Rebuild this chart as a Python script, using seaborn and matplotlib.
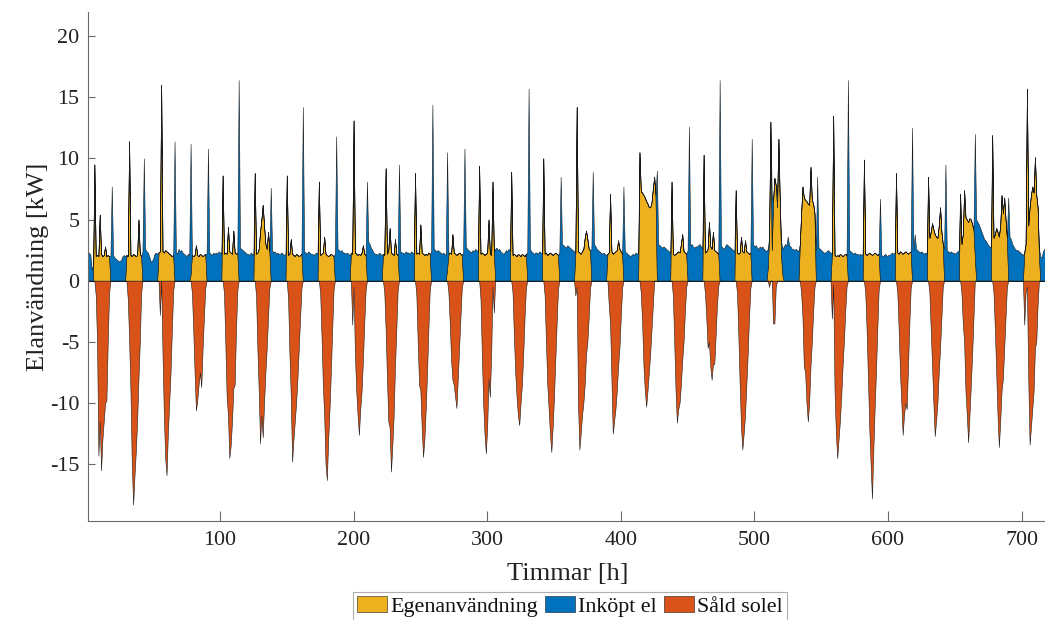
import numpy as np
import pandas as pd
import matplotlib
matplotlib.use("Agg")
import matplotlib.pyplot as plt
import seaborn as sns

# ---------------- data (hourly, 30 days x 24 h) ----------------
# total electricity use per hour [kW]
load_kw = [
    [2.2, 2.3, 2.1, 0.9, 1.3, 9.5, 2.0, 2.1, 2.0, 5.4, 2.2, 2.0, 2.1, 2.8, 2.0, 2.1, 2.0, 2.0, 7.7, 2.1, 1.9, 1.8, 1.7, 1.6],
    [1.6, 1.7, 2.0, 2.1, 2.0, 2.1, 2.0, 11.4, 2.1, 2.0, 2.2, 2.1, 2.0, 2.1, 5.0, 2.2, 2.0, 2.4, 10.0, 2.6, 2.4, 2.3, 2.0, 1.6],
    [1.6, 1.8, 2.2, 2.3, 2.2, 2.3, 2.4, 16.0, 2.4, 2.3, 2.5, 2.4, 2.3, 2.2, 2.1, 2.0, 2.1, 11.4, 2.4, 2.2, 2.6, 2.4, 2.5, 2.3],
    [2.2, 2.1, 2.0, 2.2, 2.1, 11.2, 2.1, 2.0, 2.1, 2.9, 2.1, 2.0, 2.2, 2.1, 2.0, 2.1, 2.2, 2.2, 10.8, 2.3, 2.2, 2.1, 2.3, 2.2],
    [2.3, 2.2, 2.4, 2.3, 2.2, 8.6, 2.2, 2.3, 2.2, 4.4, 2.4, 2.3, 2.2, 4.1, 2.3, 2.2, 2.3, 16.4, 2.7, 2.6, 2.5, 2.4, 2.3, 2.2],
    [2.2, 2.1, 2.3, 2.2, 2.1, 8.8, 2.2, 2.3, 2.6, 4.0, 5.0, 6.2, 4.5, 3.0, 2.6, 4.0, 2.4, 7.6, 2.5, 2.3, 2.4, 2.2, 2.3, 2.2],
    [2.2, 2.3, 2.2, 2.1, 2.2, 8.6, 2.1, 2.2, 3.4, 2.2, 2.1, 2.0, 2.2, 2.1, 2.0, 2.1, 2.2, 14.2, 2.4, 2.3, 2.2, 2.4, 2.3, 2.2],
    [2.2, 2.1, 2.2, 2.3, 2.2, 8.1, 2.1, 2.2, 2.3, 3.6, 2.2, 2.1, 2.0, 2.1, 2.2, 2.1, 2.0, 2.2, 11.8, 2.6, 2.5, 2.4, 2.5, 2.3],
    [2.3, 2.2, 2.3, 2.2, 2.1, 2.3, 2.2, 13.1, 2.3, 2.2, 2.1, 2.2, 2.1, 2.3, 2.9, 2.2, 2.1, 8.1, 3.2, 3.0, 2.7, 2.5, 2.3, 2.2],
    [2.2, 2.1, 2.3, 2.2, 2.1, 2.2, 2.1, 9.2, 2.2, 2.5, 4.3, 2.3, 2.2, 2.1, 3.4, 2.2, 2.1, 9.5, 2.4, 2.3, 2.3, 2.2, 2.4, 2.3],
    [2.3, 2.2, 2.4, 2.3, 2.2, 8.8, 2.2, 2.3, 2.2, 4.6, 2.3, 2.2, 2.1, 2.2, 2.1, 2.3, 2.2, 2.3, 14.4, 2.6, 2.5, 2.4, 2.5, 2.4],
    [2.3, 2.2, 2.3, 2.2, 2.1, 10.5, 2.2, 2.3, 2.2, 3.8, 2.3, 2.2, 2.1, 2.2, 2.3, 2.2, 2.1, 2.3, 10.8, 2.8, 2.6, 2.5, 2.4, 2.3],
    [2.5, 2.4, 2.6, 2.5, 2.4, 9.4, 2.2, 2.3, 2.2, 2.1, 2.2, 2.3, 5.0, 2.2, 2.1, 8.1, 2.4, 2.6, 2.7, 2.5, 2.6, 2.4, 2.3, 2.2],
    [2.3, 2.5, 2.4, 2.6, 2.4, 8.9, 2.1, 2.2, 2.1, 2.0, 2.2, 2.1, 2.0, 2.2, 2.1, 2.0, 2.2, 2.3, 15.7, 2.6, 2.4, 2.3, 2.2, 2.3],
    [2.3, 2.2, 2.4, 2.3, 2.2, 10.0, 2.2, 2.3, 2.1, 2.2, 2.3, 2.2, 2.1, 2.2, 2.3, 2.2, 2.1, 2.3, 8.5, 3.0, 2.9, 2.8, 2.7, 2.9],
    [2.8, 2.7, 2.6, 2.5, 2.4, 2.3, 14.2, 2.4, 2.3, 2.2, 2.4, 2.6, 3.5, 4.1, 3.4, 2.6, 2.5, 2.6, 8.9, 3.0, 2.8, 2.6, 2.5, 2.4],
    [2.3, 2.2, 2.3, 2.2, 2.1, 2.2, 2.3, 7.1, 2.4, 2.2, 2.3, 2.4, 2.5, 3.3, 2.6, 2.4, 2.2, 7.7, 2.4, 2.3, 2.2, 2.1, 2.0, 2.1],
    [2.2, 2.1, 2.3, 2.2, 2.3, 10.5, 7.3, 7.2, 7.0, 6.8, 6.5, 6.3, 6.0, 6.0, 6.4, 7.5, 8.5, 7.0, 9.0, 3.0, 2.9, 2.8, 2.7, 2.8],
    [2.7, 2.6, 2.5, 2.4, 2.3, 8.1, 2.2, 2.1, 2.2, 2.3, 2.4, 2.3, 3.0, 3.8, 2.4, 2.3, 2.2, 2.5, 12.6, 2.9, 3.0, 2.8, 2.7, 2.8],
    [2.8, 2.9, 3.0, 2.8, 2.6, 10.3, 2.3, 2.4, 2.6, 4.8, 2.8, 2.6, 4.0, 2.5, 2.4, 2.3, 2.2, 16.4, 2.9, 2.7, 2.6, 2.8, 3.0, 2.9],
    [2.8, 2.7, 2.6, 2.5, 2.4, 7.4, 2.3, 2.2, 2.3, 3.6, 2.4, 2.3, 3.3, 2.4, 2.3, 2.2, 2.3, 11.6, 3.0, 2.8, 2.9, 2.7, 2.6, 2.8],
    [2.7, 2.8, 2.6, 2.5, 2.4, 2.6, 3.5, 13.0, 7.0, 6.5, 8.4, 7.8, 7.0, 11.6, 6.5, 3.2, 2.6, 2.8, 3.0, 2.9, 3.6, 2.9, 2.8, 2.6],
    [2.6, 2.5, 2.6, 2.5, 2.4, 3.0, 5.5, 7.7, 6.8, 6.6, 6.5, 6.3, 6.2, 9.3, 6.6, 6.3, 5.5, 2.5, 8.5, 2.7, 2.6, 2.5, 2.4, 2.3],
    [2.3, 2.4, 2.5, 2.4, 2.3, 2.2, 13.5, 2.1, 2.0, 2.1, 2.0, 2.2, 2.1, 2.0, 2.1, 2.2, 2.1, 16.4, 2.5, 2.4, 2.3, 2.2, 2.3, 2.2],
    [2.2, 2.1, 2.2, 2.1, 2.2, 9.9, 2.2, 2.1, 2.2, 2.3, 2.2, 2.1, 2.2, 2.3, 2.2, 2.1, 2.2, 6.7, 2.1, 2.0, 2.1, 2.2, 2.0, 2.1],
    [2.1, 2.2, 2.3, 2.2, 2.3, 8.8, 2.3, 2.2, 2.4, 2.3, 2.2, 2.3, 2.4, 2.3, 2.2, 2.3, 2.4, 12.5, 2.5, 3.8, 2.6, 2.5, 2.4, 2.3],
    [2.4, 2.3, 2.2, 2.3, 2.2, 8.5, 3.5, 4.0, 4.7, 4.2, 3.8, 3.6, 3.5, 4.5, 6.0, 4.0, 3.0, 2.6, 9.5, 2.5, 2.4, 2.3, 2.4, 2.3],
    [2.3, 2.2, 2.3, 2.4, 2.5, 7.1, 3.0, 3.8, 7.4, 5.2, 5.0, 4.8, 5.1, 5.0, 4.6, 4.2, 12.0, 5.0, 4.8, 4.6, 4.3, 4.0, 3.7, 3.4],
    [3.3, 3.1, 2.9, 2.8, 2.7, 11.9, 3.5, 3.8, 4.3, 4.0, 3.6, 4.5, 7.0, 5.5, 6.8, 5.0, 3.5, 6.8, 3.6, 3.4, 3.0, 2.8, 2.6, 2.5],
    [2.5, 2.4, 2.3, 2.2, 2.1, 2.3, 3.0, 15.7, 4.5, 6.0, 7.0, 7.7, 7.2, 10.1, 7.0, 6.0, 2.6, 2.0, 1.9, 2.4, 2.6, 2.8, 2.7, 2.6],
]

# solar production per hour [kW]
pv_kw = [
    [0, 0, 0, 0, 0, 9.5, 3.2, 7.1, 16.3, 16.9, 17.7, 15.0, 13.6, 12.8, 11.8, 7.1, 3.0, 0, 0, 0, 0, 0, 0, 0],
    [0, 0, 0, 0, 0, 2.1, 3.5, 16.2, 11.1, 17.0, 20.5, 18.1, 16.0, 13.6, 13.0, 7.2, 3.0, 0, 0, 0, 0, 0, 0, 0],
    [0, 0, 0, 0, 0, 2.3, 5.2, 16.0, 8.4, 13.3, 17.0, 18.3, 14.8, 12.2, 9.6, 6.0, 2.9, 0, 0, 0, 0, 0, 0, 0],
    [0, 0, 0, 0, 0, 0.5, 3.1, 6.0, 9.6, 13.5, 11.9, 10.5, 9.7, 10.8, 7.5, 5.1, 2.8, 0, 0, 0, 0, 0, 0, 0],
    [0, 0, 0, 0, 0, 8.6, 3.2, 7.3, 11.7, 15.4, 16.9, 15.8, 13.7, 12.9, 10.8, 6.2, 3.1, 0, 0, 0, 0, 0, 0, 0],
    [0, 0, 0, 0, 0, 8.8, 3.4, 7.8, 11.6, 17.3, 16.0, 19.0, 14.5, 10.5, 8.1, 7.0, 3.0, 0, 0, 0, 0, 0, 0, 0],
    [0, 0, 0, 0, 0, 8.6, 3.6, 8.2, 12.9, 17.0, 15.1, 13.5, 12.2, 10.1, 7.5, 5.1, 2.8, 0, 0, 0, 0, 0, 0, 0],
    [0, 0, 0, 0, 0, 8.1, 3.1, 6.7, 10.8, 14.6, 17.2, 18.4, 15.0, 12.6, 9.7, 6.1, 2.8, 0, 0, 0, 0, 0, 0, 0],
    [0, 0, 0, 0, 0, 2.3, 5.8, 13.6, 8.3, 11.2, 13.1, 14.8, 12.6, 11.3, 9.4, 5.7, 2.9, 0, 0, 0, 0, 0, 0, 0],
    [0, 0, 0, 0, 0, 2.2, 3.1, 13.2, 10.2, 14.0, 16.3, 17.9, 15.7, 13.1, 10.4, 6.2, 2.9, 0, 0, 0, 0, 0, 0, 0],
    [0, 0, 0, 0, 0, 8.8, 3.4, 7.3, 10.7, 13.6, 14.3, 16.6, 15.1, 12.7, 9.6, 6.3, 3.0, 0, 0, 0, 0, 0, 0, 0],
    [0, 0, 0, 0, 0, 1.0, 3.2, 5.8, 8.7, 11.9, 10.8, 11.7, 12.5, 10.2, 7.8, 5.2, 2.7, 0, 0, 0, 0, 0, 0, 0],
    [0, 0, 0, 0, 0, 9.4, 3.7, 8.3, 12.2, 14.6, 16.3, 14.3, 13.0, 11.7, 8.1, 8.6, 5.0, 0, 0, 0, 0, 0, 0, 0],
    [0, 0, 0, 0, 0, 8.9, 3.1, 6.7, 9.6, 11.5, 13.2, 13.9, 12.0, 10.7, 8.1, 5.0, 2.8, 0, 0, 0, 0, 0, 0, 0],
    [0, 0, 0, 0, 0, 10.0, 3.4, 7.3, 10.6, 12.7, 14.8, 16.2, 14.1, 11.7, 8.8, 5.7, 2.8, 0, 0, 0, 0, 0, 0, 0],
    [0, 0, 0, 0, 0, 3.5, 14.7, 12.4, 16.1, 14.7, 13.4, 12.6, 12.0, 10.1, 8.4, 5.6, 3.1, 0, 0, 0, 0, 0, 0, 0],
    [0, 0, 0, 0, 0, 2.2, 4.3, 10.6, 10.4, 14.7, 13.8, 12.9, 11.5, 10.3, 8.1, 5.4, 2.8, 0, 0, 0, 0, 0, 0, 0],
    [0, 0, 0, 0, 0, 10.5, 8.3, 10.7, 14.0, 15.8, 16.8, 15.3, 13.5, 12.0, 10.4, 9.5, 8.5, 7.0, 0, 0, 0, 0, 0, 0],
    [0, 0, 0, 0, 0, 8.1, 3.4, 7.1, 11.2, 13.9, 12.9, 12.3, 11.5, 10.3, 7.4, 4.8, 2.7, 0, 0, 0, 0, 0, 0, 0],
    [0, 0, 0, 0, 0, 10.3, 3.3, 5.4, 8.1, 9.8, 9.8, 10.7, 10.8, 9.3, 6.9, 4.3, 2.6, 0, 0, 0, 0, 0, 0, 0],
    [0, 0, 0, 0, 0, 7.4, 3.3, 6.7, 10.8, 15.6, 16.2, 14.8, 14.3, 10.9, 8.3, 5.2, 2.9, 0, 0, 0, 0, 0, 0, 0],
    [0, 0, 0, 0, 0, 1.0, 4.0, 13.0, 2.5, 10.0, 11.9, 8.3, 6.0, 11.6, 6.5, 2.0, 0.5, 0, 0, 0, 0, 0, 0, 0],
    [0, 0, 0, 0, 0, 3.0, 6.5, 10.7, 13.8, 14.1, 16.5, 17.8, 16.2, 16.3, 11.6, 8.8, 6.0, 0, 0, 0, 0, 0, 0, 0],
    [0, 0, 0, 0, 0, 5.3, 13.8, 11.1, 14.5, 16.6, 15.0, 13.7, 11.6, 9.0, 7.1, 4.7, 2.6, 0, 0, 0, 0, 0, 0, 0],
    [0, 0, 0, 0, 0, 9.9, 3.2, 6.1, 10.2, 14.3, 17.2, 19.9, 16.2, 12.8, 9.7, 6.1, 3.0, 0, 0, 0, 0, 0, 0, 0],
    [0, 0, 0, 0, 0, 8.8, 3.3, 6.2, 9.9, 12.3, 14.8, 13.3, 12.4, 12.8, 9.2, 5.8, 3.0, 0, 0, 0, 0, 0, 0, 0],
    [0, 0, 0, 0, 0, 8.5, 4.5, 8.0, 11.7, 14.2, 16.5, 15.1, 13.5, 12.0, 11.5, 7.0, 3.5, 0, 0, 0, 0, 0, 0, 0],
    [0, 0, 0, 0, 0, 7.1, 4.0, 7.3, 12.4, 14.2, 16.0, 18.0, 16.1, 13.5, 10.6, 7.2, 2.0, 0, 0, 0, 0, 0, 0, 0],
    [0, 0, 0, 0, 0, 11.9, 4.5, 7.8, 11.8, 15.0, 17.2, 16.0, 16.0, 13.5, 12.3, 8.0, 4.0, 0, 0, 0, 0, 0, 0, 0],
    [0, 0, 0, 0, 0, 5.9, 4.0, 16.2, 12.5, 19.4, 19.0, 18.2, 16.2, 15.6, 12.0, 8.0, 2.0, 0, 0, 0, 0, 0, 0, 0],
]

series_labels = ["Egenanvändning", "Inköpt el", "Såld solel"]
series_colors = ["#EDB120", "#0072BD", "#D95319"]
x_ticks = [100, 200, 300, 400, 500, 600, 700]
y_ticks = [-15, -10, -5, 0, 5, 10, 15, 20]
x_label = "Timmar [h]"
y_label = "Elanvändning [kW]"

# ---------------- derived series ----------------
load = np.array(load_kw, dtype=float).ravel()
pv = np.array(pv_kw, dtype=float).ravel()
hours = np.arange(1, load.size + 1)
egen = np.minimum(load, pv)          # self consumption
inkopt = load - egen                 # bought from grid
sald = -(pv - egen)                  # sold to grid (negative)

df = pd.DataFrame({"Timme": hours, "egen": egen, "total": egen + inkopt, "sald": sald})

# ---------------- style ----------------
sns.set_theme(style="ticks")
plt.rcParams["font.family"] = ["Liberation Serif", "DejaVu Serif"]
plt.rcParams["axes.unicode_minus"] = False
plt.rcParams["axes.edgecolor"] = "#6a6a6a"
plt.rcParams["axes.linewidth"] = 0.8

W, H = 1045, 620
fig = plt.figure(figsize=(W / 100, H / 100), dpi=100)
ax = fig.add_axes([87.7 / W, 1 - 521 / H, (1048.3 - 87.7) / W, (521 - 12) / H])

edge = dict(edgecolor="#1a1a1a", linewidth=0.4)
h1 = ax.fill_between(df["Timme"], 0, df["egen"], facecolor=series_colors[0], **edge)
h2 = ax.fill_between(df["Timme"], df["egen"], df["total"], facecolor=series_colors[1], **edge)
h3 = ax.fill_between(df["Timme"], 0, df["sald"], facecolor=series_colors[2], **edge)

ax.set_xlim(1, 720)
ax.set_ylim(-19.64, 21.96)
ax.set_xticks(x_ticks)
ax.set_yticks(y_ticks)
ax.tick_params(axis="both", direction="in", labelsize=15.8, colors="#6a6a6a",
               labelcolor="#222222", width=0.8)
ax.tick_params(axis="x", length=7, pad=7)
ax.tick_params(axis="y", length=5, pad=6)
sns.despine(ax=ax)

ax.set_xlabel(x_label, fontsize=19, color="#222222")
ax.xaxis.set_label_coords(0.5, -0.082)
ax.set_ylabel(y_label, fontsize=19, color="#222222")
ax.yaxis.set_label_coords(-0.04, 0.5)

leg = fig.legend([h1, h2, h3], series_labels, loc="upper left",
                 bbox_to_anchor=(353 / W, 1 - 592 / H), ncol=3, frameon=True,
                 fancybox=False, edgecolor="#9a9a9a", fontsize=15.8,
                 handlelength=1.37, handleheight=0.75, handletextpad=0.15,
                 columnspacing=0.3, borderpad=0.2, borderaxespad=0)
leg.get_frame().set_linewidth(0.8)
for t in leg.get_texts():
    t.set_color("#111111")

fig.savefig("out.png", dpi=100)
